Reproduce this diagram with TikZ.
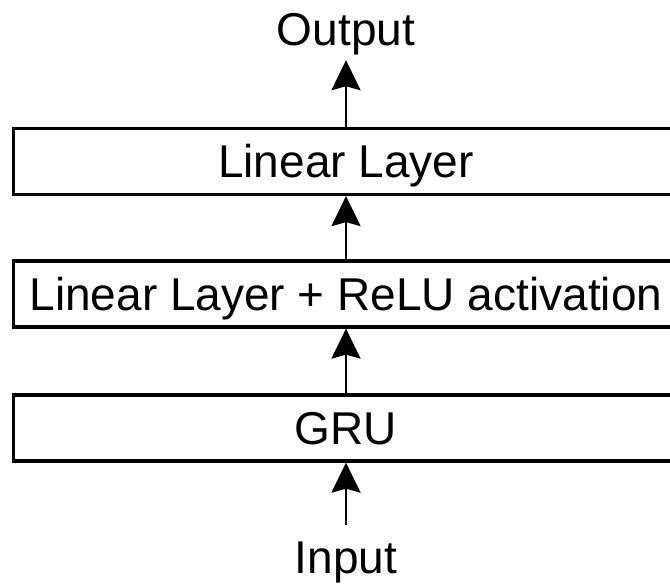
\documentclass[tikz,border=0pt]{standalone}
\usepackage{fontspec}
\setmainfont{Liberation Sans}
\usetikzlibrary{arrows.meta}
\begin{document}
\begin{tikzpicture}[x=1pt, y=-1pt,
  every node/.style={font=\fontsize{46}{50}\selectfont, text height=32.9pt, text depth=0pt},
  layerbox/.style={draw=black, line width=3.5pt, fill=white, minimum width=664.6pt,
                   minimum height=65.7pt, inner sep=0pt},
  label/.style={inner sep=0pt},
  flow/.style={line width=2.6pt, -{Stealth[length=30pt, width=29pt, inset=4pt]}}
]
  % canvas
  \clip (0,0) rectangle (670,584);
  \fill[white] (0,0) rectangle (670,584);

  % layers, bottom to top
  \node[layerbox] (gru)   at (346,428) {GRU};
  \node[layerbox] (relu)  at (346,294) {Linear Layer + ReLU activation};
  \node[layerbox] (lin)   at (346,161.5) {Linear Layer};

  % input and output labels (anchored on their baselines)
  \node[label, anchor=base] (out) at (346,45)  {Output};
  \node[label, anchor=base] (in)  at (346,573) {Input};

  % data flow
  \draw[flow, shorten <=15.4pt] (in.north) -- (gru.south);
  \draw[flow] (gru.north) -- (relu.south);
  \draw[flow] (relu.north) -- (lin.south);
  \draw[flow, shorten >=15pt] (lin.north) -- (out.south);
\end{tikzpicture}
\end{document}
